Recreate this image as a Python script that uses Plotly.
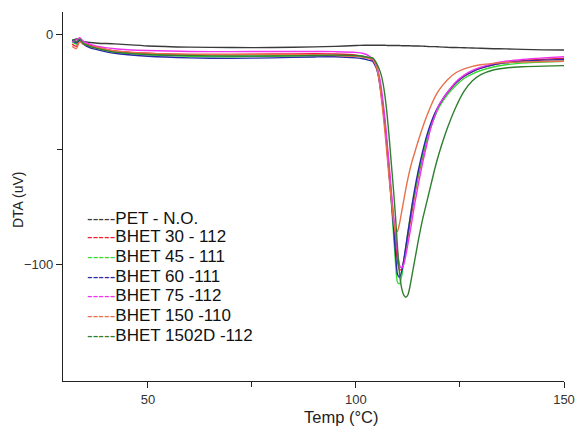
import plotly.graph_objects as go

# Temperature grid (°C)
temp = [31.8, 32.8, 33.6, 34.5, 36, 38, 42, 50, 60, 70, 80, 90, 95, 100, 102, 103,
        104, 104.5, 105, 105.5, 106, 106.5, 107, 107.5, 108, 108.5, 109, 109.5, 110,
        110.5, 111, 111.5, 112, 112.5, 113, 113.5, 114, 114.5, 115,
        116, 117, 118, 119, 120, 122, 124, 126, 128, 130, 133, 136, 140, 145, 150]

pet_no = [-2.5, -1.8, -2.2, -2.8, -3.3, -3.6, -3.9, -4.8, -5.3, -5.5, -5.5, -5.2, -5, -4.6, -4.5, -4.5,
          -4.5, -4.5, -4.5, -4.5, -4.5, -4.5, -4.5, -4.6, -4.6, -4.6, -4.6, -4.6, -4.6, -4.6, -4.7,
          -4.7, -4.7, -4.7, -4.7, -4.8, -4.8, -4.8, -4.8,
          -4.9, -5, -5.1, -5.1, -5.2, -5.4, -5.5, -5.6, -5.7, -5.8, -6, -6.1, -6.3, -6.5, -6.6]

bhet_30 = [-4, -5, -2.5, -3.5, -4.5, -5.5, -7, -8, -8.5, -8.5, -8.3, -8.2, -8.3, -8.8, -9.5, -10,
           -11, -12.5, -14.5, -18, -24, -31, -39, -49, -59, -70, -80, -90, -99, -102.5, -102,
           -98.5, -93.5, -88, -82, -76.5, -71, -66, -61.5,
           -53.5, -46, -40, -35, -31, -25.5, -21, -18, -16, -14.5, -13, -12, -11.2, -10.6, -10.2]

bhet_45 = [-3, -4, -2, -3.5, -5, -6, -7.5, -8.7, -9.3, -9.5, -9.2, -9, -9, -9.2, -9.5, -9.8,
           -10, -11.5, -14, -18, -24, -31, -40, -50, -61, -73, -86, -99, -108, -108.5, -105,
           -99, -92.5, -86, -80, -74.5, -69.5, -65, -60.5,
           -52.5, -45.5, -40, -35.5, -31.5, -26, -22, -19, -17, -15.5, -14, -13, -12.3, -11.8, -11.5]

bhet_60 = [-2.5, -3.5, -2.5, -4, -5.5, -6.5, -8, -9.3, -10, -10.2, -10, -9.6, -9.5, -10, -10.5, -11,
           -11.5, -13, -15, -19, -25, -32, -40, -50, -61, -72, -83, -95, -104.5, -105.8, -103,
           -98, -92, -86, -80, -74, -68.5, -63.5, -59,
           -51, -44, -38.5, -34, -30.5, -25, -21, -18, -16, -14.5, -13, -12.2, -11.5, -11, -10.7]

bhet_75 = [-3, -2.2, -1.2, -2.8, -4, -5, -6, -6.8, -7.2, -7.3, -7.2, -7.2, -7.3, -7.6, -8.2, -9,
           -10.5, -12, -14, -17, -22, -29, -37, -47, -57, -68, -78, -87, -95, -100.5, -101.6,
           -100, -96, -91, -86, -80.5, -75, -70, -65,
           -56, -48, -40.5, -35, -30.5, -25, -20.5, -17.5, -15.5, -14, -12.5, -11.5, -10.7, -10, -9.5]

bhet_150 = [-5, -6, -3, -4, -4.8, -5.5, -7, -8, -8.5, -8.5, -8.5, -8.7, -9, -9.3, -9.8, -10.2,
            -10.5, -12, -14.5, -19, -26, -34, -43, -53, -63, -72, -80.5, -86, -85.5, -82, -77,
            -72, -67, -62.5, -58.5, -55, -52, -49, -46,
            -40.5, -35.5, -31, -27, -24, -19.5, -16.5, -14.8, -13.7, -13, -12.4, -12, -11.8, -11.6, -11.5]

bhet_1502d = [-2, -3, -1.8, -3.8, -5, -6, -7.5, -8.5, -9, -9.2, -9.2, -9, -8.8, -9, -9.4, -9.8,
              -10, -11, -12.5, -14.5, -17, -21, -27, -35, -45, -56, -67, -79, -93, -104.5, -110.5,
              -113.5, -114.4, -113.3, -109.5, -104.5, -99.5, -94.5, -89.5,
              -80.5, -73, -65.5, -58, -51.5, -40.5, -31.5, -24.5, -20, -17.3, -15.3, -14.4, -13.9, -13.6, -13.4]

names = ["PET - N.O.", "BHET 30 - 112", "BHET 45 - 111", "BHET 60 -111",
         "BHET 75 -112", "BHET 150 -110", "BHET 1502D -112"]
series = [pet_no, bhet_30, bhet_45, bhet_60, bhet_75, bhet_150, bhet_1502d]
colors = ["#3a3a3a", "#ee1c3a", "#33dd33", "#2a2aa8", "#ee33ee", "#e8704a", "#2f7f2f"]

x_ticks = [50, 100, 150]
x_minor = [75, 125]
y_ticks = [-100, 0]
y_minor = [-50]

FONT = "Liberation Sans, Arial, sans-serif"

fig = go.Figure()
for name, ys, col in zip(names, series, colors):
    fig.add_trace(go.Scatter(x=temp, y=ys, mode="lines", name=name,
                             line=dict(color=col, width=1.4, shape="spline", smoothing=0.6),
                             showlegend=False))

# Legend rows drawn as text, like the reference ("-----" samples)
row_px = [218.3, 236.9, 256.2, 276.0, 295.8, 315.6, 335.2]
for name, col, py in zip(names, colors, row_px):
    fig.add_annotation(xref="paper", yref="paper", x=(85 - 63) / 501, y=(381 - py) / 369,
                       xanchor="left", yanchor="middle", showarrow=False,
                       text=f'<span style="color:{col}">-----</span>{name}',
                       font=dict(family=FONT, size=17, color="#111111"))

# Axis titles
fig.add_annotation(xref="paper", yref="paper", x=(340.7 - 63) / 501, y=(381 - 417) / 369,
                   xanchor="center", yanchor="middle", showarrow=False, text="Temp (°C)",
                   borderpad=0, font=dict(family=FONT, size=16.5, color="#222222"))
fig.add_annotation(xref="paper", yref="paper", x=(18 - 63) / 501, y=(381 - 200) / 369,
                   xanchor="center", yanchor="middle", showarrow=False, text="DTA (uV)",
                   textangle=-90, font=dict(family=FONT, size=14, color="#222222"))

fig.update_layout(
    width=576, height=430, autosize=False,
    margin=dict(l=63, r=12, t=12, b=49),
    paper_bgcolor="white", plot_bgcolor="white",
    font=dict(family=FONT, size=13, color="#333333"),
    xaxis=dict(range=[29.6, 150], tickmode="array", tickvals=x_ticks, automargin=False,
               ticks="outside", ticklen=6, tickwidth=1.3, tickcolor="#222",
               showline=True, linecolor="#222", linewidth=1.4, showgrid=False, zeroline=False,
               minor=dict(tickmode="array", tickvals=x_minor, ticks="outside", ticklen=5,
                          tickwidth=1.2, tickcolor="#222", showgrid=False),
               tickfont=dict(size=13, color="#333")),
    yaxis=dict(range=[-150.9, 10.0], tickmode="array", tickvals=y_ticks, automargin=False,
               ticks="outside", ticklen=6, tickwidth=1.3, tickcolor="#222",
               showline=True, linecolor="#222", linewidth=1.4, showgrid=False, zeroline=False,
               minor=dict(tickmode="array", tickvals=y_minor, ticks="outside", ticklen=5,
                          tickwidth=1.2, tickcolor="#222", showgrid=False),
               tickfont=dict(size=13, color="#333")),
)

fig.write_html("out.html",
               config={"displayModeBar": False, "responsive": False},
               post_script="document.body.style.margin='0';document.body.style.overflow='hidden';")
